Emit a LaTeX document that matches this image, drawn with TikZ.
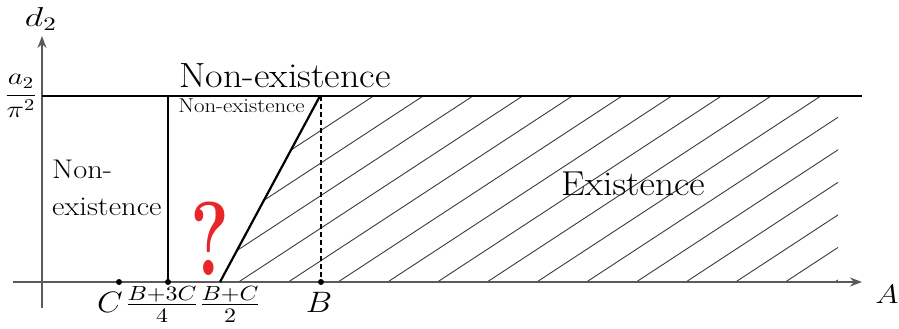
\documentclass[tikz,border=0pt]{standalone}
\usepackage{graphicx}
\usetikzlibrary{arrows.meta}
\definecolor{axisgray}{HTML}{5A5A5A}
\definecolor{hatchgray}{HTML}{3A3A3A}
\definecolor{qred}{HTML}{E8262A}
\newcommand{\mylab}[3]{\scalebox{#1}[#2]{\fontsize{14.4}{17}\selectfont$#3$}}
\begin{document}
\begin{tikzpicture}[x=1pt,y=-1pt,
  axis/.style={draw=axisgray, line width=1.6pt, -{Stealth[length=12pt,width=9pt]}},
  boldline/.style={draw=black, line width=2.2pt},
  hatch/.style={draw=hatchgray, line width=0.9pt},
  dashline/.style={draw=black, line width=1.6pt, dash pattern=on 5pt off 3pt},
  lab/.style={inner sep=0pt, text=black},
  dot/.style={circle, fill=black, inner sep=0pt, minimum size=6pt}]
\useasboundingbox (0,0) rectangle (899,329);
% hatching
\begin{scope}
\clip (220,282) -- (320,96) -- (838,96) -- (838,282) -- cycle;
\foreach \k in {-5,...,10} {
  \draw[hatch] ({338+49.7*\k},282) -- ({338+49.7*\k+284},96);
}
\end{scope}
% axes
\coordinate (ybot) at (42,308);
\coordinate (ytop) at (42,36);
\coordinate (xl) at (13,282);
\coordinate (xr) at (862,282);
\draw[axis] (ybot) -- (ytop);
\draw[axis] (xl) -- (xr);
% top line
\coordinate (tl) at (42,96);
\coordinate (tr) at (862,96);
\draw[boldline] (tl) -- (tr);
% points
\node[dot] (pC) at (119,282) {};
\node[dot] (pM) at (168,282) {};
\node[dot] (pB) at (321,282) {};
\coordinate (vtop) at (168,96);
\draw[boldline] (vtop) -- (pM.center);
\coordinate (s0) at (220,282);
\coordinate (s1) at (320,96);
\draw[boldline] (s0) -- (s1);
\coordinate (dtop) at (321,96);
\draw[dashline] (dtop) -- (pB.center);
% labels
\node[lab] (d2) at (41,19) {\mylab{2.5}{1.9}{d_2}};
\node[lab] (a2) at (21,96) {\mylab{2.05}{1.65}{\displaystyle\frac{a_2}{\pi^2}}};
\node[lab, anchor=base] (lC) at (110,312) {\mylab{2.3}{2.05}{C}};
\node[lab, anchor=base] (lF1) at (162,312) {\mylab{2.4}{2.05}{\frac{B+3C}{4}}};
\node[lab, anchor=base] (lF2) at (230,312) {\mylab{2.4}{2.05}{\frac{B+C}{2}}};
\node[lab, anchor=base] (lB) at (319,312) {\mylab{2.3}{2.05}{B}};
\node[lab, anchor=base] (lA) at (887,303) {\mylab{2.2}{1.85}{A}};
\node[lab, anchor=base, xscale=1.09, font=\fontsize{35}{40}\selectfont] (ne1) at (285,87) {Non-existence};
\node[lab, anchor=base, xscale=1.14, font=\fontsize{20}{24}\selectfont] (ne2) at (241.5,112) {Non-existence};
\node[lab, anchor=base west, align=left, xscale=1.13, font=\fontsize{27}{37}\selectfont] (ne3) at (52,215) {Non-\\existence};
\node[lab, anchor=base west, xscale=1.09, font=\fontsize{34.6}{40}\selectfont] (ex) at (561,195) {Existence};
\node[lab, anchor=base, text=qred, xscale=0.7, font=\fontsize{105}{105}\selectfont\bfseries] (q) at (210,275) {?};
\end{tikzpicture}
\end{document}
